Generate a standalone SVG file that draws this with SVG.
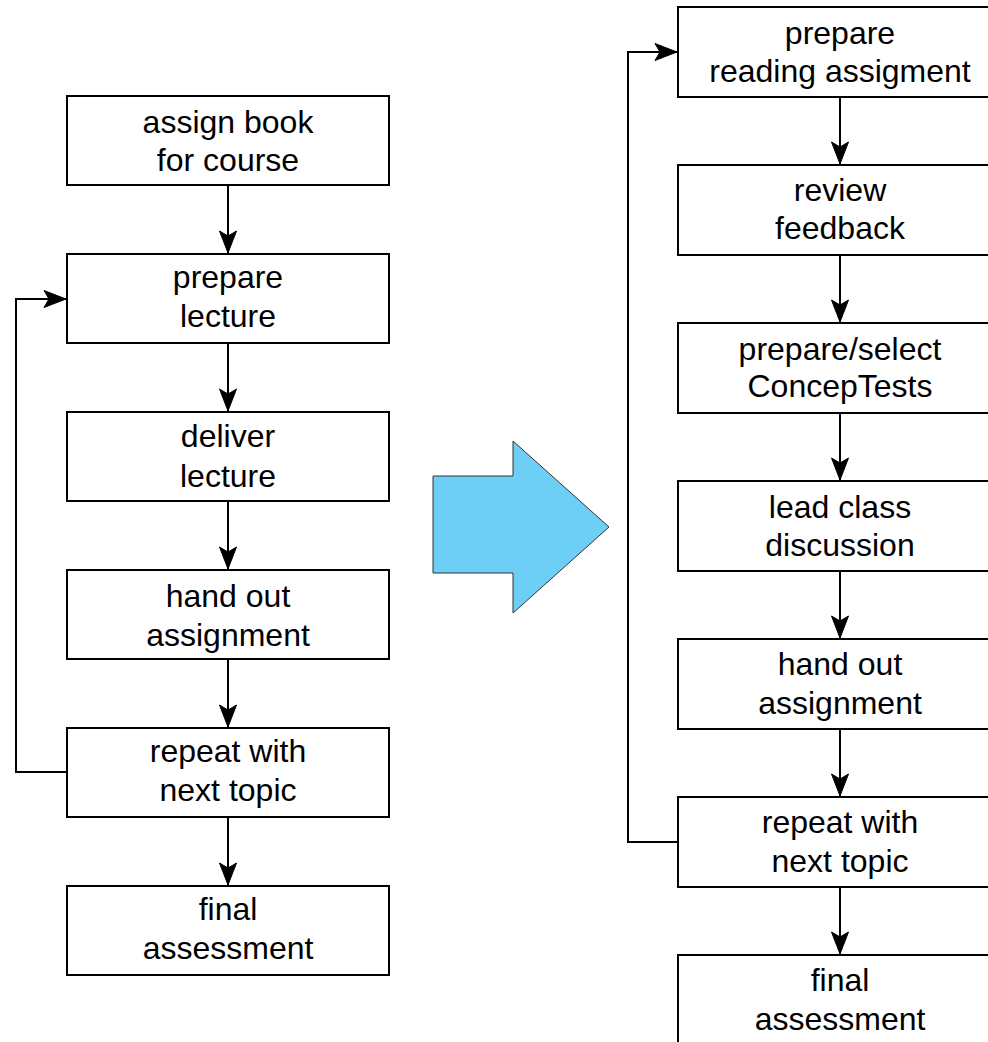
<svg xmlns="http://www.w3.org/2000/svg" width="988" height="1042" viewBox="0 0 988 1042">
<style>
.box{fill:#fff;stroke:#000;stroke-width:2}
.lbl{font-family:"Liberation Sans",Arial,Helvetica,sans-serif;font-size:32px;fill:#000;text-anchor:middle}
.con{fill:none;stroke:#000;stroke-width:2;marker-end:url(#ah)}
</style>
<defs>
<marker id="ah" markerUnits="userSpaceOnUse" markerWidth="26" markerHeight="20" viewBox="-24 -10 26 20" refX="0" refY="0" orient="auto">
<path d="M0,0 L-22,-8.5 L-17,0 L-22,8.5 Z" fill="#000" stroke="#000" stroke-width="1"/>
</marker>
</defs>
<rect width="988" height="1042" fill="#fff"/>
<g id="bigarrow">
<polygon points="433,476 513,476 513,441 609,527 513,613 513,573 433,573" fill="#6dcff6" stroke="#333" stroke-width="1"/>
</g>
<g id="connectors">
<line class="con" x1="228" y1="185" x2="228" y2="253"/>
<line class="con" x1="228" y1="343" x2="228" y2="411"/>
<line class="con" x1="228" y1="501" x2="228" y2="569"/>
<line class="con" x1="228" y1="659" x2="228" y2="727"/>
<line class="con" x1="228" y1="817" x2="228" y2="885"/>
<polyline class="con" points="67,772 16,772 16,299 66,299"/>
<line class="con" x1="840" y1="97" x2="840" y2="164"/>
<line class="con" x1="840" y1="255" x2="840" y2="322"/>
<line class="con" x1="840" y1="413" x2="840" y2="480"/>
<line class="con" x1="840" y1="571" x2="840" y2="638"/>
<line class="con" x1="840" y1="729" x2="840" y2="796"/>
<line class="con" x1="840" y1="887" x2="840" y2="954"/>
<polyline class="con" points="678,842 628,842 628,52 677,52"/>
</g>
<g id="L1"><rect class="box" x="67" y="96" width="322" height="89"/><text class="lbl" x="228" y="132.5">assign book</text><text class="lbl" x="228" y="171">for course</text></g>
<g id="L2"><rect class="box" x="67" y="254" width="322" height="89"/><text class="lbl" x="228" y="287.5">prepare</text><text class="lbl" x="228" y="327">lecture</text></g>
<g id="L3"><rect class="box" x="67" y="412" width="322" height="89"/><text class="lbl" x="228" y="447">deliver</text><text class="lbl" x="228" y="486.5">lecture</text></g>
<g id="L4"><rect class="box" x="67" y="570" width="322" height="89"/><text class="lbl" x="228" y="607">hand out</text><text class="lbl" x="228" y="646">assignment</text></g>
<g id="L5"><rect class="box" x="67" y="728" width="322" height="89"/><text class="lbl" x="228" y="762">repeat with</text><text class="lbl" x="228" y="801">next topic</text></g>
<g id="L6"><rect class="box" x="67" y="886" width="322" height="89"/><text class="lbl" x="228" y="920">final</text><text class="lbl" x="228" y="959">assessment</text></g>
<g id="R1"><rect class="box" x="678" y="7" width="324" height="90"/><text class="lbl" x="840" y="43.5">prepare</text><text class="lbl" x="840" y="82">reading assigment</text></g>
<g id="R2"><rect class="box" x="678" y="165" width="324" height="90"/><text class="lbl" x="840" y="200.5">review</text><text class="lbl" x="840" y="239">feedback</text></g>
<g id="R3"><rect class="box" x="678" y="323" width="324" height="90"/><text class="lbl" x="840" y="359.5">prepare/select</text><text class="lbl" x="840" y="397">ConcepTests</text></g>
<g id="R4"><rect class="box" x="678" y="481" width="324" height="90"/><text class="lbl" x="840" y="518">lead class</text><text class="lbl" x="840" y="556">discussion</text></g>
<g id="R5"><rect class="box" x="678" y="639" width="324" height="90"/><text class="lbl" x="840" y="675">hand out</text><text class="lbl" x="840" y="713.5">assignment</text></g>
<g id="R6"><rect class="box" x="678" y="797" width="324" height="90"/><text class="lbl" x="840" y="833">repeat with</text><text class="lbl" x="840" y="871.5">next topic</text></g>
<g id="R7"><rect class="box" x="678" y="955" width="324" height="90"/><text class="lbl" x="840" y="991">final</text><text class="lbl" x="840" y="1029.5">assessment</text></g>
</svg>
